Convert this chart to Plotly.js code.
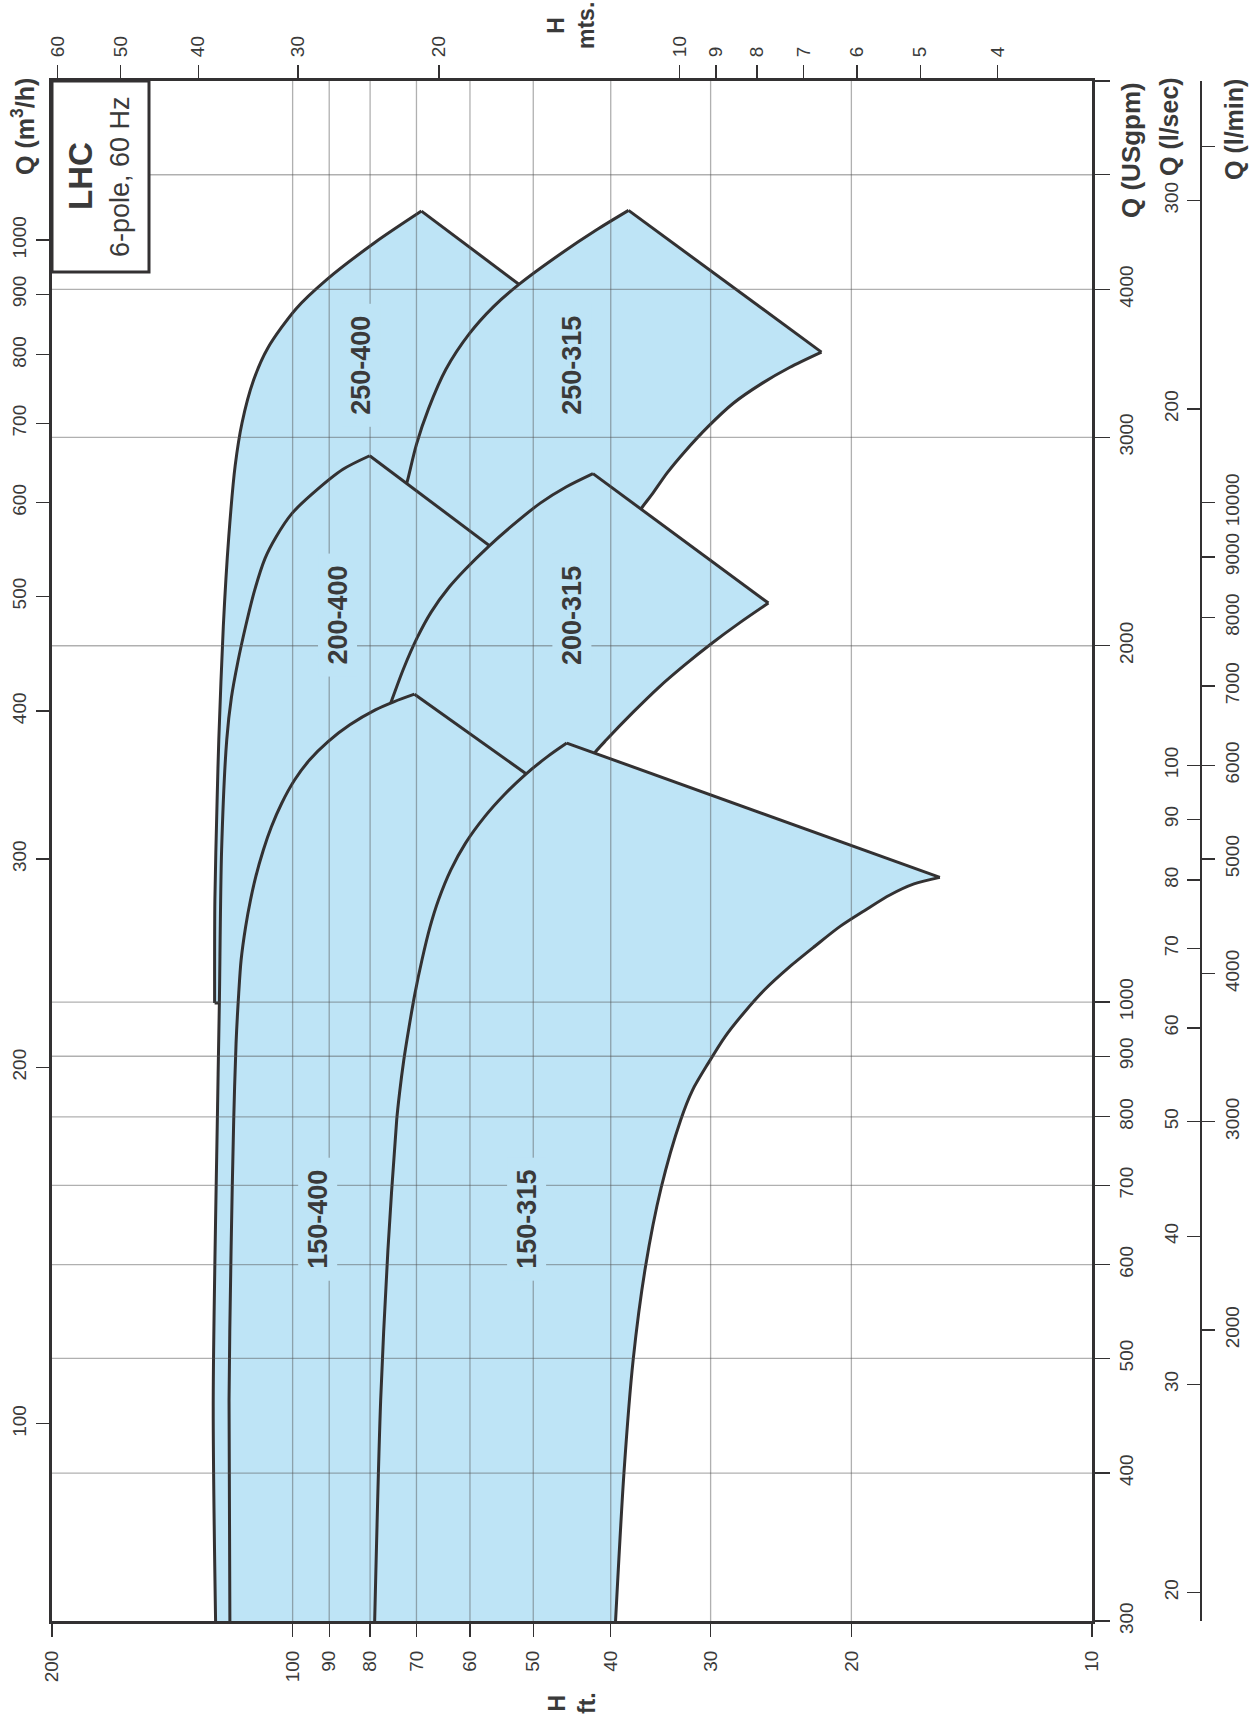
<!DOCTYPE html>
<html><head><meta charset="utf-8">
<script src="https://cdn.plot.ly/plotly-3.0.1.min.js"></script>
<style>html,body{margin:0;padding:0;background:#fff;} #chart{width:1249px;height:1717px;}</style>
</head><body><div id="chart"></div>
<script>
// ---------- DATA (Q in m3/h, H in ft) : max-impeller and min-impeller curves ----------
const pumpNames = ['250-400','250-315','200-400','200-315','150-400','150-315'];

const q250_400_max = [226.7, 277.0, 336.5, 378.3, 471.8, 561.3, 644.8, 700.7, 761.6, 810.7, 875.1, 925.2, 995.3, 1058.0];
const h250_400_max = [125.2, 125.1, 124.3, 123.7, 122.1, 120.2, 118.0, 115.7, 111.9, 107.4, 99.0, 90.8, 78.9, 69.0];
const q250_400_min = [226.7, 277.0, 336.5, 408.9, 496.6, 580.3, 664.7, 761.6, 864.3];
const h250_400_min = [97.9, 92.4, 84.8, 75.5, 67.3, 60.0, 55.0, 50.5, 46.3];

const q250_315_max = [277.0, 336.5, 408.9, 496.6, 569.1, 627.1, 672.1, 720.5, 777.8, 833.6, 878.2, 917.5, 974.8, 1019.8, 1059.5];
const h250_315_max = [89.8, 84.8, 80.0, 76.6, 74.5, 71.8, 70.0, 67.6, 64.3, 60.1, 56.1, 52.1, 46.1, 41.7, 38.0];
const q250_315_min = [277.0, 336.5, 408.9, 496.6, 558.2, 595.3, 610.0, 635.8, 662.9, 696.0, 728.1, 756.4, 780.5, 804.2];
const h250_315_min = [52.0, 49.0, 46.3, 43.7, 39.0, 36.5, 35.5, 34.0, 32.3, 30.2, 28.1, 25.9, 23.9, 21.8];

const q200_400_max = [67, 104.7, 187.7, 226.7, 305.3, 378.3, 410.5, 440.1, 471.8, 505.7, 538.2, 561.3, 587.1, 610.0, 640.3, 657.4];
const h200_400_max = [124.8, 125.7, 124.1, 123.5, 122.7, 120.9, 119.3, 117.1, 114.5, 111.6, 108.3, 104.9, 100.3, 94.6, 86.5, 80.1];
const q200_400_min = [67, 104.7, 140.2, 187.7, 226.7, 277.0, 336.5, 393.3, 450.6, 520.4];
const h200_400_min = [81.2, 80.0, 77.8, 75.5, 73.4, 69.3, 65.4, 60.0, 55.0, 50.5];

const q200_315_max = [251.3, 305.3, 363.9, 409.2, 434.0, 461.9, 485.0, 509.2, 527.2, 551.5, 571.0, 599.5, 618.6, 634.9];
const h200_315_max = [86.0, 83.6, 80.0, 75.1, 72.7, 69.8, 67.1, 63.7, 60.8, 56.8, 53.6, 49.0, 45.5, 42.1];
const q200_315_min = [251.3, 305.3, 350.0, 368.8, 378.3, 399.2, 419.2, 437.0, 455.6, 474.9, 493.6];
const h200_315_min = [49.0, 46.3, 44.3, 41.9, 40.5, 37.5, 34.8, 32.4, 30.0, 27.6, 25.4];

const q150_400_max = [67, 104.7, 140.2, 180.6, 209.7, 231.0, 246.5, 263.0, 277.0, 289.9, 305.3, 319.4, 334.4, 350.0, 363.9, 377.0, 389.5, 401.0, 407.5, 413.4];
const h150_400_max = [119.8, 120.1, 119.4, 118.5, 117.7, 116.8, 116.0, 114.5, 112.9, 111.2, 108.8, 106.3, 103.2, 99.4, 95.2, 90.3, 84.8, 78.8, 74.6, 70.4];
const q150_400_min = [67, 104.7, 154.5, 206.9, 251.3, 305.3, 333.3];
const h150_400_min = [55.0, 54.3, 52.7, 50.5, 48.3, 46.3, 45.0];

const q150_315_max = [67, 104.7, 140.2, 180.6, 190.2, 202.9, 216.5, 231.0, 246.5, 263.0, 277.0, 293.7, 309.3, 325.8, 339.8, 353.4, 366.1, 375.9];
const h150_315_max = [79.0, 77.6, 76.0, 74.1, 73.5, 72.6, 71.5, 70.3, 68.9, 67.3, 65.7, 63.4, 60.8, 57.5, 54.4, 51.2, 48.0, 45.4];
const q150_315_min = [67, 91.0, 113.2, 135.6, 158.2, 180.6, 191.4, 201.7, 212.2, 222.8, 232.5, 243.2, 253.3, 262.9, 271.7, 279.7, 285.8, 289.5];
const h150_315_min = [39.5, 38.5, 37.5, 36.2, 34.6, 32.7, 31.6, 30.2, 28.8, 27.2, 25.7, 23.9, 22.2, 20.7, 19.2, 17.9, 16.7, 15.5];

// label anchor points (H ft, Q m3/h)
const labelH = [82.1, 44.7, 87.8, 44.7, 93.1, 51.0];
const labelQ = [784, 784, 482, 482, 149, 149];

// tick values
const ftTicks    = [200, 100, 90, 80, 70, 60, 50, 40, 30, 20, 10];
const mTicks     = [60, 50, 40, 30, 20, 10, 9, 8, 7, 6, 5, 4];
const m3hTicks   = [100, 200, 300, 400, 500, 600, 700, 800, 900, 1000];
const gpmTicks   = [300, 400, 500, 600, 700, 800, 900, 1000, 2000, 3000, 4000, 5000, 6000];
const gpmLabels  = ['300','400','500','600','700','800','900','1000','2000','3000','4000',' ',' '];
const lsTicks    = [20, 30, 40, 50, 60, 70, 80, 90, 100, 200, 300];
const lminTicks  = [2000, 3000, 4000, 5000, 6000, 7000, 8000, 9000, 10000, 20000];
const lminLabels = ['2000','3000','4000','5000','6000','7000','8000','9000','10000',' '];
const ftGrid     = [100, 90, 80, 70, 60, 50, 40, 30, 20];
const gpmGrid    = [400, 500, 600, 700, 800, 900, 1000, 2000, 3000, 4000, 5000];

// ---------- LAYOUT ----------
const W = 1249, HH = 1717;
const L = 52, R = 1092, T = 81, B = 1621;
const px = v => v / W, py = v => 1 - v / HH;
const log = Math.log10;

const GPM_PER_M3H = 4.402868, M_PER_FT = 0.3048;
const qLo = 300 / GPM_PER_M3H, qHi = 6000 / GPM_PER_M3H;
const hLo = 10, hHi = 200;

const FILL = '#bee4f6', INK = '#333132', TXT = '#3a3a3a', GRID = 'rgba(80,80,80,0.45)';
const FONT = 'Liberation Sans, Arial, Helvetica, sans-serif';

const curves = {
  '250-400': [q250_400_max, h250_400_max, q250_400_min, h250_400_min],
  '250-315': [q250_315_max, h250_315_max, q250_315_min, h250_315_min],
  '200-400': [q200_400_max, h200_400_max, q200_400_min, h200_400_min],
  '200-315': [q200_315_max, h200_315_max, q200_315_min, h200_315_min],
  '150-400': [q150_400_max, h150_400_max, q150_400_min, h150_400_min],
  '150-315': [q150_315_max, h150_315_max, q150_315_min, h150_315_min]
};

const traces = [];
const curveLine = {color:INK, width:3, shape:'spline', smoothing:0.8};
const straight = {color:INK, width:3};
const common = {type:'scatter', xaxis:'x', yaxis:'y', hoverinfo:'skip', showlegend:false};
pumpNames.forEach(n => {
  const [qa, ha, qb, hb] = curves[n];
  // operating area (max curve out, min curve back)
  const fx = ha.concat(hb.slice().reverse()), fy = qa.concat(qb.slice().reverse());
  traces.push(Object.assign({}, common, {mode:'lines', x:fx, y:fy, fill:'toself', fillcolor:FILL,
    line:{width:0, color:FILL}, name:n}));
  // outlines
  traces.push(Object.assign({}, common, {mode:'lines', x:ha, y:qa, line:curveLine}));
  traces.push(Object.assign({}, common, {mode:'lines', x:hb, y:qb, line:curveLine}));
  const e = ha.length - 1, f = hb.length - 1;
  traces.push(Object.assign({}, common, {mode:'lines', x:[ha[e], hb[f]], y:[qa[e], qb[f]], line:straight}));
  traces.push(Object.assign({}, common, {mode:'lines', x:[ha[0], hb[0]], y:[qa[0], qb[0]], line:straight}));
});

// grid lines drawn above the filled areas
const vx = [], vy = [];
ftGrid.forEach(v => { vx.push(v, v, null); vy.push(qLo, qHi, null); });
traces.push(Object.assign({}, common, {mode:'lines', x:vx, y:vy, line:{color:GRID, width:1.3}}));
const hx = [], hy = [];
gpmGrid.forEach(v => { hx.push(hHi, hLo, null); hy.push(v, v, null); });
traces.push(Object.assign({}, common, {mode:'lines', x:hx, y:hy, yaxis:'y2', line:{color:GRID, width:1.3}}));
// anchor traces so the secondary scales are drawn
const ghost = (xa, ya, xv, yv) => traces.push(Object.assign({}, common, {mode:'markers', x:[xv], y:[yv], xaxis:xa, yaxis:ya,
  marker:{opacity:0, size:1}}));
ghost('x2', 'y', 20, 300);
ghost('x', 'y3', 50, 100);
ghost('x', 'y4', 50, 5000);

const tickFont = {family:FONT, size:19, color:TXT};
const base = {type:'log', showgrid:false, zeroline:false, ticks:'outside', tickcolor:INK, tickwidth:1.3,
  tickfont:tickFont, tickangle:-90, tickmode:'array', fixedrange:true, autorange:false};

const layout = {
  width:W, height:HH, margin:{l:0, r:0, t:0, b:0}, paper_bgcolor:'#fff', plot_bgcolor:'#fff',
  showlegend:false, font:{family:FONT, color:TXT},
  xaxis: Object.assign({}, base, {domain:[px(L), px(R)], range:[log(hHi), log(hLo)], anchor:'y', side:'bottom',
    showline:true, linewidth:3, linecolor:INK, ticklen:13, tickvals:ftTicks, ticktext:ftTicks.map(String), ticklabelstandoff:6}),
  xaxis2: Object.assign({}, base, {overlaying:'x', anchor:'y', side:'top', range:[log(hHi*M_PER_FT), log(hLo*M_PER_FT)],
    showline:true, linewidth:3, linecolor:INK, ticklen:13, tickvals:mTicks, ticktext:mTicks.map(String), ticklabelstandoff:4}),
  yaxis: Object.assign({}, base, {domain:[py(B), py(T)], range:[log(qLo), log(qHi)], anchor:'x', side:'left',
    showline:true, linewidth:3, linecolor:INK, ticklen:13, tickvals:m3hTicks, ticktext:m3hTicks.map(String), ticklabelstandoff:2}),
  yaxis2: Object.assign({}, base, {overlaying:'y', anchor:'x', side:'right', range:[log(300), log(6000)],
    showline:true, linewidth:3, linecolor:INK, ticklen:15, tickvals:gpmTicks, ticktext:gpmLabels, ticklabelstandoff:0}),
  yaxis3: Object.assign({}, base, {overlaying:'y', anchor:'free', position:px(1200), side:'left',
    range:[log(qLo/3.6), log(qHi/3.6)], showline:true, linewidth:1.5, linecolor:INK, ticklen:13,
    tickvals:lsTicks, ticktext:lsTicks.map(String), ticklabelstandoff:1}),
  yaxis4: Object.assign({}, base, {overlaying:'y', anchor:'free', position:px(1200), side:'right',
    range:[log(qLo/0.06), log(qHi/0.06)], showline:false, ticklen:14,
    tickvals:lminTicks, ticktext:lminLabels, ticklabelstandoff:1}),
  shapes: [
    {type:'rect', xref:'paper', yref:'paper', x0:px(L), x1:px(149), y0:py(272), y1:py(T),
     fillcolor:'#fff', line:{color:INK, width:3}, layer:'above'}
  ],
  annotations: []
};

const A = layout.annotations;
const bold = size => ({family:FONT, size:size, color:TXT, weight:'bold'});
pumpNames.forEach((n, i) => {
  A.push({xref:'x', yref:'y', x:log(labelH[i]), y:log(labelQ[i]), text:'\u00a0' + n + '\u00a0', showarrow:false,
    textangle:-90, bgcolor:FILL, borderpad:4, font:bold(27), xanchor:'center', yanchor:'middle'});
});
const t = (x, y, text, font) => A.push({xref:'paper', yref:'paper', x:px(x), y:py(y), text, showarrow:false,
  textangle:-90, font, xanchor:'center', yanchor:'middle'});
t(23, 127, 'Q (m<sup>3</sup>/h)', bold(25));
t(571, 26, 'H<br>mts.', bold(23));
t(572, 1703, 'H<br>ft.', bold(23));
t(1131, 150, 'Q (USgpm)', bold(26));
t(1169, 127, 'Q (l/sec)', bold(25));
t(1234, 130, 'Q (l/min)', bold(25));
t(80, 176, 'LHC', bold(33));
t(120, 177, '6-pole, 60 Hz', {family:FONT, size:27, color:TXT});

Plotly.newPlot('chart', traces, layout, {staticPlot:true, displayModeBar:false});
</script>
</body></html>
